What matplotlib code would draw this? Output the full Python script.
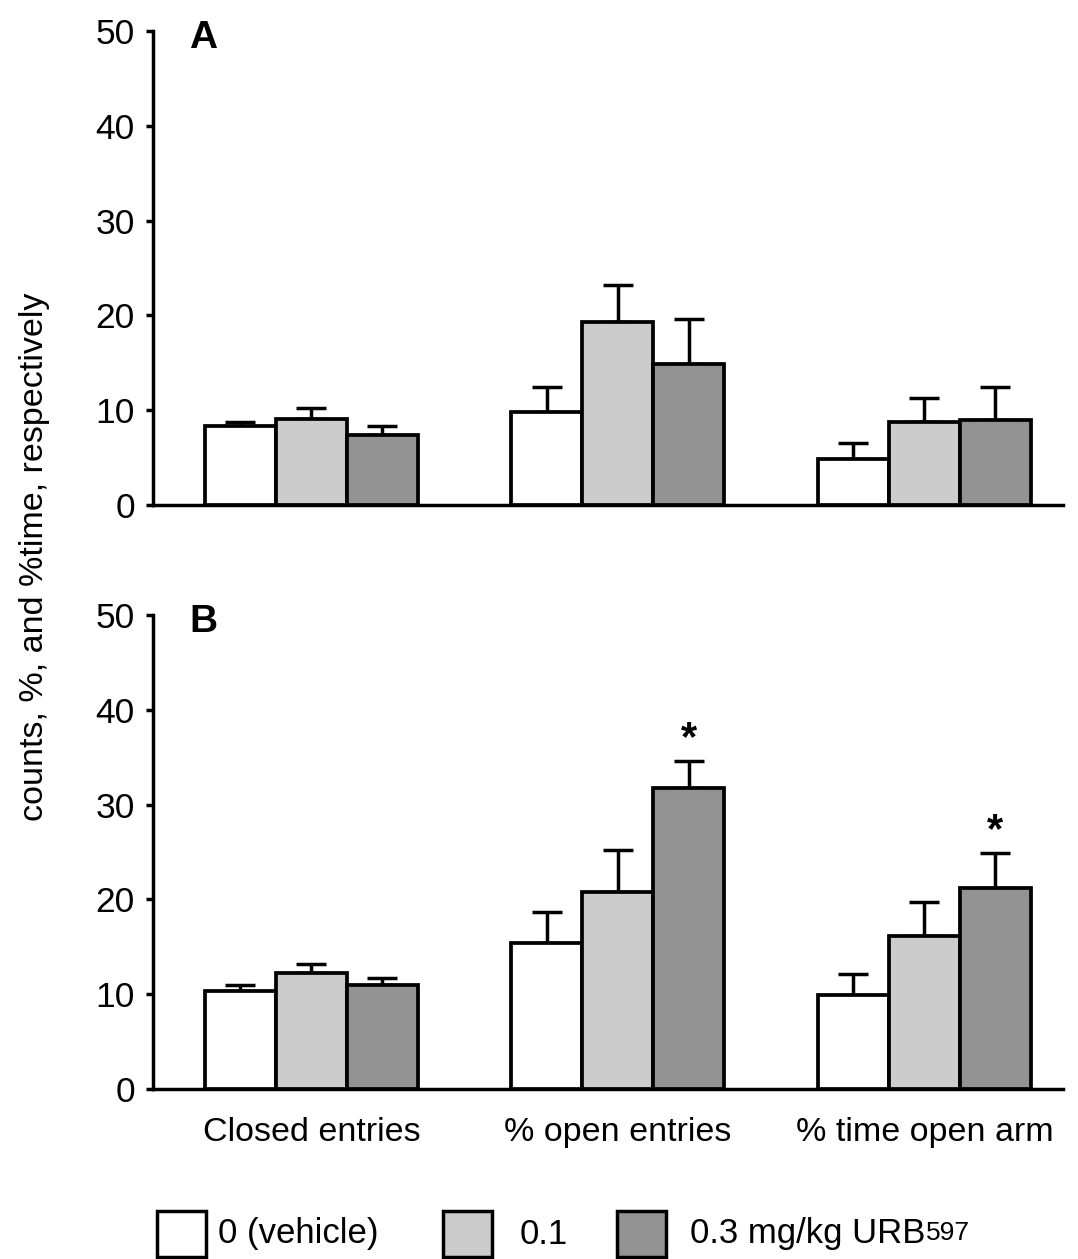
import matplotlib
matplotlib.use("Agg")
import matplotlib.pyplot as plt
from matplotlib.patches import Rectangle
import numpy as np

plt.rcParams['font.family'] = ['Liberation Sans', 'DejaVu Sans']

categories = ["Closed entries", "% open entries", "% time open arm"]
groups = ["0 (vehicle)", "0.1", "0.3 mg/kg URB"]
colors = ["#ffffff", "#cccccc", "#939393"]

# Panel A: means and SEM (upper only) per dose group
A_means = {"0 (vehicle)": [8.3, 9.8, 4.8],
           "0.1": [9.1, 19.3, 8.8],
           "0.3 mg/kg URB": [7.4, 14.9, 9.0]}
A_sem = {"0 (vehicle)": [0.5, 2.6, 1.75],
         "0.1": [1.1, 3.9, 2.5],
         "0.3 mg/kg URB": [0.9, 4.7, 3.4]}
# Panel B
B_means = {"0 (vehicle)": [10.3, 15.4, 9.9],
           "0.1": [12.2, 20.8, 16.1],
           "0.3 mg/kg URB": [11.0, 31.7, 21.2]}
B_sem = {"0 (vehicle)": [0.7, 3.3, 2.2],
         "0.1": [1.0, 4.4, 3.6],
         "0.3 mg/kg URB": [0.7, 2.9, 3.7]}
# significance markers in panel B: (group, category index)
B_sig = [("0.3 mg/kg URB", 1), ("0.3 mg/kg URB", 2)]

yticks = [0, 10, 20, 30, 40, 50]

W, H = 1078, 1259
fig = plt.figure(figsize=(W / 100, H / 100), dpi=100)
left = 153 / W
width = (1063 - 153) / W
hgt = (505 - 31) / H
axA = fig.add_axes([left, 1 - 505 / H, width, hgt])
axB = fig.add_axes([left, 1 - 1089 / H, width, hgt])

bw = 0.2317
x = np.arange(len(categories))
lw = 2.7


def draw(ax, means, sems, letter, sig=None):
    for k, g in enumerate(groups):
        xs = x + (k - 1) * bw
        m = np.array(means[g])
        e = np.array(sems[g])
        ax.bar(xs, m, width=bw, color=colors[k], edgecolor="black",
               linewidth=lw, zorder=3)
        ax.errorbar(xs, m, yerr=[np.zeros_like(e), e], fmt="none",
                    ecolor="black", elinewidth=2.5, capsize=10.5,
                    capthick=2.5, zorder=2)
    if sig:
        for g, ci in sig:
            k = groups.index(g)
            xs = x[ci] + (k - 1) * bw
            top = means[g][ci] + sems[g][ci]
            ax.text(xs, top + 0.2, "*", ha="center", va="bottom",
                    fontsize=30, fontweight="bold")
    ax.set_xlim(-0.517, 2.452)
    ax.set_ylim(0, 50)
    ax.set_yticks(yticks)
    ax.tick_params(axis="y", labelsize=25.5, width=2.5, length=5, pad=8,
                   direction="out")
    ax.spines["top"].set_visible(False)
    ax.spines["right"].set_visible(False)
    ax.spines["left"].set_linewidth(2.5)
    ax.spines["bottom"].set_linewidth(2.5)
    ax.text(0.04, 0.985, letter, transform=ax.transAxes, fontsize=28,
            fontweight="bold", ha="left", va="center")


draw(axA, A_means, A_sem, "A")
draw(axB, B_means, B_sem, "B", B_sig)

axA.set_xticks([])
axB.set_xticks(x)
axB.set_xticklabels(categories, fontsize=24.5)
axB.tick_params(axis="x", length=0, pad=20)

fig.text(35 / W, 1 - 557 / H, "counts, %, and %time, respectively",
         rotation=90, ha="center", va="center", fontsize=24.5)

# legend drawn manually
box_w, box_h = 49, 46
box_y = 1257
entries = [(157, 218, groups[0]), (443, 520, groups[1]), (617, 690, groups[2])]
for k, (bx, tx, lab) in enumerate(entries):
    fig.add_artist(Rectangle((bx / W, 1 - box_y / H), box_w / W, box_h / H,
                             transform=fig.transFigure, facecolor=colors[k],
                             edgecolor="black", linewidth=2.5))
    t = fig.text(tx / W, 1 - 1234 / H, lab, ha="left", va="center",
                 fontsize=25)
    if k == 2:
        fig.canvas.draw()
        bb = t.get_window_extent()
        fig.text(bb.x1 / W + 0.0005, bb.y0 / H + 0.0045, "597", ha="left",
                 va="bottom", fontsize=19)

fig.savefig("out.png", dpi=100)
